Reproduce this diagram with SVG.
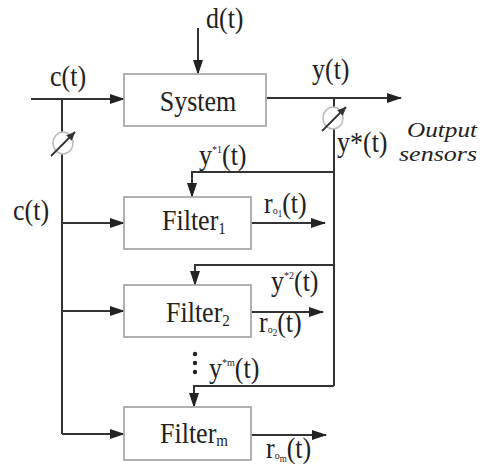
<svg xmlns="http://www.w3.org/2000/svg" width="480" height="466" viewBox="0 0 480 466">
<style>
.box{fill:#fff;stroke:#a9a9a9;stroke-width:1.8}
.ln{fill:none;stroke:#333;stroke-width:2}
.t{font-family:"Liberation Serif","Times New Roman",serif;font-size:26px;fill:#222}
.it{font-style:italic;font-size:21.5px}
.sup{font-size:10px}
.sub{font-size:15px}
.ss{font-size:9px}
.sens{fill:#fff;stroke:#bbb;stroke-width:1.5}
.sl{fill:none;stroke:#333;stroke-width:1.8}
</style>
<defs>
<marker id="ah" markerUnits="userSpaceOnUse" markerWidth="15" markerHeight="11" refX="14" refY="5.5" orient="auto">
<path d="M0,0.5 L15,5.5 L0,10.5 z" fill="#222"/>
</marker>
<marker id="sh" markerUnits="userSpaceOnUse" markerWidth="9" markerHeight="8" refX="8.5" refY="4" orient="auto">
<path d="M0,0 L9,4 L0,8 z" fill="#333"/>
</marker>
</defs>
<rect width="480" height="466" fill="#fff"/>

<g id="connectors">
<path class="ln" d="M198,28 V74" marker-end="url(#ah)"/>
<path class="ln" d="M31,99 H124" marker-end="url(#ah)"/>
<path class="ln" d="M62,99 V434"/>
<path class="ln" d="M62,223 H124" marker-end="url(#ah)"/>
<path class="ln" d="M62,311 H124" marker-end="url(#ah)"/>
<path class="ln" d="M62,434 H124" marker-end="url(#ah)"/>
<path class="ln" d="M266,98 H401" marker-end="url(#ah)"/>
<path class="ln" d="M334,98 V386"/>
<path class="ln" d="M334,172 H192 V197" marker-end="url(#ah)"/>
<path class="ln" d="M334,265 H195 V285" marker-end="url(#ah)"/>
<path class="ln" d="M334,386 H194 V407" marker-end="url(#ah)"/>
<path class="ln" d="M251,223 H325" marker-end="url(#ah)"/>
<path class="ln" d="M251,312 H323" marker-end="url(#ah)"/>
<path class="ln" d="M251,435 H326" marker-end="url(#ah)"/>
</g>

<g id="sensor-input">
<ellipse class="sens" cx="63" cy="143" rx="10" ry="11"/>
<path class="sl" d="M51,156 L75,132" marker-end="url(#sh)"/>
</g>
<g id="sensor-output">
<ellipse class="sens" cx="333" cy="118" rx="10" ry="11"/>
<path class="sl" d="M322,131 L346,107" marker-end="url(#sh)"/>
</g>

<g id="system">
<rect class="box" x="124" y="74" width="142" height="52"/>
<text class="t" transform="translate(198,111) scale(1,1.12)" text-anchor="middle">System</text>
</g>
<g id="filter1">
<rect class="box" x="124" y="197" width="127" height="52"/>
<text class="t" transform="translate(162,230) scale(1,1.12)">Filter<tspan class="sub" dy="4">1</tspan></text>
</g>
<g id="filter2">
<rect class="box" x="124" y="285" width="127" height="52"/>
<text class="t" transform="translate(166,322) scale(1,1.12)">Filter<tspan class="sub" dy="4">2</tspan></text>
</g>
<g id="filterm">
<rect class="box" x="124" y="407" width="127" height="53"/>
<text class="t" transform="translate(160,443) scale(1,1.12)">Filter<tspan class="sub" dy="3">m</tspan></text>
</g>

<g id="dots">
<circle cx="195" cy="354" r="2.2" fill="#222"/>
<circle cx="195" cy="363" r="2.2" fill="#222"/>
<circle cx="195" cy="372" r="2.2" fill="#222"/>
</g>

<g id="labels">
<text class="t" transform="translate(206,28) scale(1,1.12)">d(t)</text>
<text class="t" transform="translate(50,86) scale(1,1.12)">c(t)</text>
<text class="t" transform="translate(13,220) scale(1,1.12)">c(t)</text>
<text class="t" transform="translate(312,79) scale(1,1.12)">y(t)</text>
<text class="t" transform="translate(337,152) scale(1,1.12)">y*(t)</text>
<text class="t it" x="407" y="137" textLength="70" lengthAdjust="spacingAndGlyphs">Output</text>
<text class="t it" x="399" y="161" textLength="78" lengthAdjust="spacingAndGlyphs">sensors</text>
<text class="t" transform="translate(199,165) scale(1,1.12)">y<tspan class="sup" dy="-11">*1</tspan><tspan dy="11">(t)</tspan></text>
<text class="t" transform="translate(271,291) scale(1,1.12)">y<tspan class="sup" dy="-11">*2</tspan><tspan dy="11">(t)</tspan></text>
<text class="t" transform="translate(209,378) scale(1,1.12)">y<tspan class="sup" dy="-11">*m</tspan><tspan dy="11">(t)</tspan></text>
<text class="t" transform="translate(264,213) scale(1,1.12)">r<tspan class="sup" dy="1">o</tspan><tspan class="ss" dy="3">1</tspan><tspan dy="-4">(t)</tspan></text>
<text class="t" transform="translate(259,332) scale(1,1.12)">r<tspan class="sup" dy="1">o</tspan><tspan class="ss" dy="3">2</tspan><tspan dy="-4">(t)</tspan></text>
<text class="t" transform="translate(266,458) scale(1,1.12)">r<tspan class="sup" dy="1">o</tspan><tspan class="ss" dy="3">m</tspan><tspan dy="-4">(t)</tspan></text>
</g>
</svg>
